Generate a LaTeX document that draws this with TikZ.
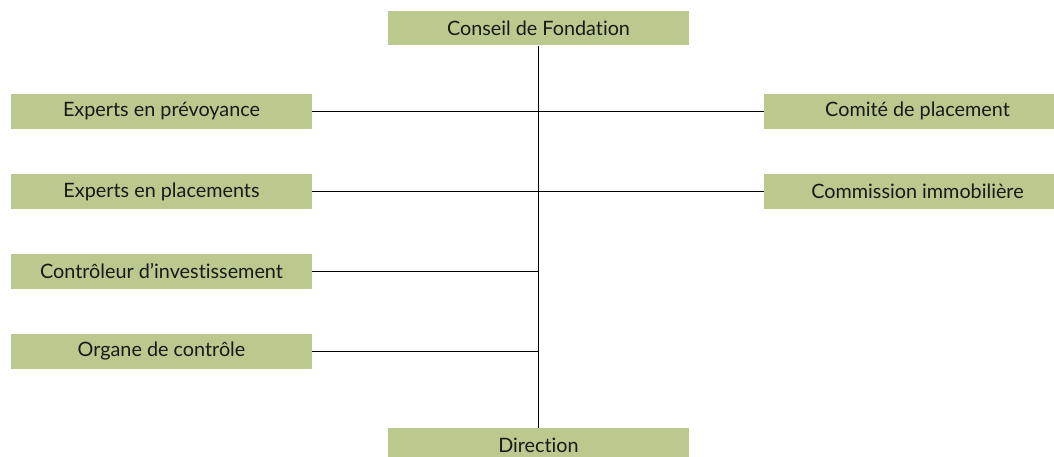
\documentclass[tikz,border=0pt]{standalone}
\usepackage{fontspec}
\setmainfont[Ligatures={NoCommon}]{Lato}
\definecolor{boxgreen}{HTML}{BBC98F}
\begin{document}
\begin{tikzpicture}[x=1pt,y=-1pt,
  orgbox/.style={fill=boxgreen, draw=none, minimum width=301pt, minimum height=34.7pt, inner sep=0pt, font=\fontsize{19.8}{22}\selectfont, text=black!90},
  link/.style={draw=black, line width=0.85pt}]
\useasboundingbox (0,0) rectangle (1054,457);
\node[orgbox] (cf) at (538.5,28) {Conseil de Fondation};
\node[orgbox] (ep) at (161.5,111.3) {Experts en prévoyance};
\node[orgbox] (epl) at (161.5,191.7) {Experts en placements};
\node[orgbox] (ci) at (161.5,271.3) {Contrôleur d{\char"0027}investissement};
\node[orgbox] (oc) at (161.5,351.4) {Organe de contrôle};
\node[orgbox, minimum width=307pt] (cp) at (917.5,111.3) {Comité de placement};
\node[orgbox, minimum width=307pt] (cim) at (917.5,191.7) {Commission immobilière};
\node[orgbox] (dir) at (538.5,445.5) {Direction};
\draw[link] (cf.south) -- (dir.north);
\draw[link] (ep.east) -- (cp.west);
\draw[link] (epl.east) -- (cim.west);
\draw[link] (ci.east) -- (ci.east -| cf.south);
\draw[link] (oc.east) -- (oc.east -| cf.south);
\end{tikzpicture}
\end{document}
